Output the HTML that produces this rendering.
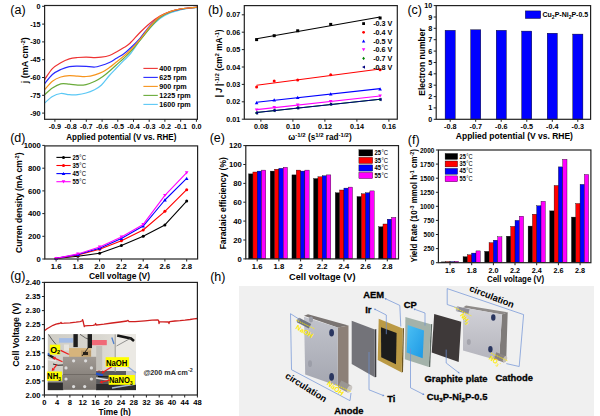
<!DOCTYPE html><html><head><meta charset="utf-8"><style>html,body{margin:0;padding:0;background:#fff;width:600px;height:416px;overflow:hidden}svg{display:block}text{font-family:"Liberation Sans",sans-serif}</style></head><body>
<svg width="600" height="416" viewBox="0 0 600 416">
<rect width="600" height="416" fill="#fff"/>
<text x="18.0" y="13.8" font-size="12.5" text-anchor="middle" font-weight="normal" fill="#000" >(a)</text>
<line x1="42.1" y1="6.3" x2="44.6" y2="6.3" stroke="#222" stroke-width="1"/>
<text x="40.6" y="8.8" font-size="7.2" text-anchor="end" font-weight="bold" fill="#000" >0</text>
<line x1="42.1" y1="24.1" x2="44.6" y2="24.1" stroke="#222" stroke-width="1"/>
<text x="40.6" y="26.6" font-size="7.2" text-anchor="end" font-weight="bold" fill="#000" >-15</text>
<line x1="42.1" y1="41.9" x2="44.6" y2="41.9" stroke="#222" stroke-width="1"/>
<text x="40.6" y="44.4" font-size="7.2" text-anchor="end" font-weight="bold" fill="#000" >-30</text>
<line x1="42.1" y1="59.7" x2="44.6" y2="59.7" stroke="#222" stroke-width="1"/>
<text x="40.6" y="62.2" font-size="7.2" text-anchor="end" font-weight="bold" fill="#000" >-45</text>
<line x1="42.1" y1="77.5" x2="44.6" y2="77.5" stroke="#222" stroke-width="1"/>
<text x="40.6" y="80.0" font-size="7.2" text-anchor="end" font-weight="bold" fill="#000" >-60</text>
<line x1="42.1" y1="95.3" x2="44.6" y2="95.3" stroke="#222" stroke-width="1"/>
<text x="40.6" y="97.8" font-size="7.2" text-anchor="end" font-weight="bold" fill="#000" >-75</text>
<line x1="42.1" y1="113.1" x2="44.6" y2="113.1" stroke="#222" stroke-width="1"/>
<text x="40.6" y="115.6" font-size="7.2" text-anchor="end" font-weight="bold" fill="#000" >-90</text>
<line x1="54.9" y1="119.3" x2="54.9" y2="121.8" stroke="#222" stroke-width="1"/>
<text x="54.9" y="129.3" font-size="7.2" text-anchor="middle" font-weight="bold" fill="#000" >-0.9</text>
<line x1="70.6" y1="119.3" x2="70.6" y2="121.8" stroke="#222" stroke-width="1"/>
<text x="70.6" y="129.3" font-size="7.2" text-anchor="middle" font-weight="bold" fill="#000" >-0.8</text>
<line x1="86.3" y1="119.3" x2="86.3" y2="121.8" stroke="#222" stroke-width="1"/>
<text x="86.3" y="129.3" font-size="7.2" text-anchor="middle" font-weight="bold" fill="#000" >-0.7</text>
<line x1="102.1" y1="119.3" x2="102.1" y2="121.8" stroke="#222" stroke-width="1"/>
<text x="102.1" y="129.3" font-size="7.2" text-anchor="middle" font-weight="bold" fill="#000" >-0.6</text>
<line x1="117.8" y1="119.3" x2="117.8" y2="121.8" stroke="#222" stroke-width="1"/>
<text x="117.8" y="129.3" font-size="7.2" text-anchor="middle" font-weight="bold" fill="#000" >-0.5</text>
<line x1="133.5" y1="119.3" x2="133.5" y2="121.8" stroke="#222" stroke-width="1"/>
<text x="133.5" y="129.3" font-size="7.2" text-anchor="middle" font-weight="bold" fill="#000" >-0.4</text>
<line x1="149.2" y1="119.3" x2="149.2" y2="121.8" stroke="#222" stroke-width="1"/>
<text x="149.2" y="129.3" font-size="7.2" text-anchor="middle" font-weight="bold" fill="#000" >-0.3</text>
<line x1="164.9" y1="119.3" x2="164.9" y2="121.8" stroke="#222" stroke-width="1"/>
<text x="164.9" y="129.3" font-size="7.2" text-anchor="middle" font-weight="bold" fill="#000" >-0.2</text>
<line x1="180.7" y1="119.3" x2="180.7" y2="121.8" stroke="#222" stroke-width="1"/>
<text x="180.7" y="129.3" font-size="7.2" text-anchor="middle" font-weight="bold" fill="#000" >-0.1</text>
<line x1="196.4" y1="119.3" x2="196.4" y2="121.8" stroke="#222" stroke-width="1"/>
<text x="196.4" y="129.3" font-size="7.2" text-anchor="middle" font-weight="bold" fill="#000" >0.0</text>
<path d="M44.6,103.1 C45.9,102.0 49.7,98.0 52.4,96.4 C55.1,94.8 58.0,93.8 60.8,93.5 C63.6,93.2 66.5,94.5 69.3,94.7 C72.1,94.9 74.9,95.0 77.7,94.7 C80.5,94.4 83.3,93.8 86.1,93.0 C88.9,92.2 91.9,91.0 94.5,89.7 C97.1,88.4 99.0,87.4 101.5,85.0 C104.0,82.6 107.0,78.2 109.4,75.5 C111.8,72.8 113.6,71.0 116.0,68.5 C118.4,66.0 121.4,62.9 123.9,60.4 C126.4,57.9 128.2,56.8 131.0,53.2 C133.8,49.6 137.8,43.2 141.0,39.0 C144.2,34.8 146.8,31.4 150.0,28.0 C153.2,24.6 156.7,21.0 160.0,18.5 C163.3,16.0 166.7,14.4 170.0,13.0 C173.3,11.6 176.7,10.8 180.0,10.0 C183.3,9.2 187.1,8.6 190.0,8.2 C192.9,7.8 196.1,7.6 197.3,7.5" fill="none" stroke="#5bc8f5" stroke-width="1.2"/>
<path d="M44.6,94.7 C45.9,93.6 49.7,89.8 52.4,88.0 C55.1,86.2 58.0,84.5 60.8,83.8 C63.6,83.1 66.5,83.9 69.3,84.1 C72.1,84.3 74.9,85.0 77.7,85.1 C80.5,85.2 83.2,85.2 86.1,84.6 C89.0,84.0 92.2,82.6 95.0,81.3 C97.8,80.0 100.5,78.3 102.9,76.6 C105.3,74.9 107.2,73.1 109.4,71.2 C111.6,69.3 113.6,67.4 116.0,65.2 C118.4,63.0 121.4,60.5 123.9,58.2 C126.4,55.9 128.3,54.2 131.0,51.2 C133.7,48.2 136.6,44.4 140.0,40.3 C143.4,36.2 148.0,30.2 151.3,26.4 C154.6,22.6 156.9,19.9 160.0,17.5 C163.1,15.2 166.7,13.6 170.0,12.3 C173.3,11.0 176.7,10.2 180.0,9.5 C183.3,8.8 187.1,8.3 190.0,8.0 C192.9,7.7 196.1,7.5 197.3,7.4" fill="none" stroke="#6aab3a" stroke-width="1.2"/>
<path d="M44.6,83.8 C45.9,82.2 49.7,76.9 52.4,74.5 C55.1,72.1 58.0,70.8 60.8,69.5 C63.6,68.2 66.5,67.2 69.3,66.6 C72.1,66.0 74.9,66.1 77.7,66.1 C80.5,66.1 83.2,66.2 86.1,66.4 C89.0,66.6 92.5,67.2 95.0,67.0 C97.5,66.8 98.8,66.2 101.2,65.5 C103.6,64.8 106.9,63.6 109.4,62.5 C111.9,61.4 113.6,60.1 116.0,58.6 C118.4,57.1 121.4,55.6 123.9,53.7 C126.4,51.9 128.3,50.1 131.0,47.5 C133.7,44.9 136.8,41.9 140.0,38.3 C143.2,34.6 146.7,29.2 150.0,25.6 C153.3,22.0 156.7,18.8 160.0,16.5 C163.3,14.2 166.7,12.9 170.0,11.7 C173.3,10.5 176.7,9.7 180.0,9.1 C183.3,8.5 187.1,8.2 190.0,7.9 C192.9,7.6 196.1,7.4 197.3,7.3" fill="none" stroke="#2a2aff" stroke-width="1.2"/>
<path d="M44.6,79.6 C45.9,77.8 49.7,71.4 52.4,68.6 C55.1,65.8 58.0,64.3 60.8,62.7 C63.6,61.1 66.5,59.8 69.3,58.9 C72.1,58.0 74.9,57.8 77.7,57.5 C80.5,57.2 83.2,57.2 86.1,57.2 C89.0,57.2 92.5,57.6 95.0,57.6 C97.5,57.6 98.8,57.6 101.2,57.2 C103.6,56.9 106.9,56.4 109.4,55.5 C111.9,54.6 114.0,53.3 116.4,52.0 C118.8,50.7 121.6,49.1 123.9,47.6 C126.2,46.1 127.3,45.7 130.0,43.2 C132.7,40.7 136.7,35.8 140.0,32.5 C143.3,29.2 146.7,25.9 150.0,23.2 C153.3,20.4 156.7,17.9 160.0,16.0 C163.3,14.1 166.7,12.7 170.0,11.5 C173.3,10.3 176.7,9.6 180.0,9.0 C183.3,8.4 187.1,8.1 190.0,7.8 C192.9,7.5 196.1,7.3 197.3,7.2" fill="none" stroke="#ee3333" stroke-width="1.2"/>
<path d="M44.6,89.7 C45.9,88.3 49.7,83.3 52.4,81.2 C55.1,79.1 58.0,77.9 60.8,77.0 C63.6,76.1 66.5,75.8 69.3,75.7 C72.1,75.6 74.9,76.1 77.7,76.2 C80.5,76.3 83.2,76.7 86.1,76.5 C89.0,76.3 92.2,75.6 95.0,74.8 C97.8,74.0 100.5,73.0 102.9,71.8 C105.3,70.6 107.2,69.2 109.4,67.6 C111.6,66.0 113.6,64.2 116.0,62.3 C118.4,60.4 121.4,58.1 123.9,56.0 C126.4,53.9 128.3,52.3 131.0,49.5 C133.7,46.7 136.8,43.1 140.0,39.3 C143.2,35.5 146.7,30.3 150.0,26.5 C153.3,22.7 156.7,19.1 160.0,16.6 C163.3,14.1 166.7,12.9 170.0,11.6 C173.3,10.3 176.7,9.6 180.0,9.0 C183.3,8.4 187.1,8.1 190.0,7.8 C192.9,7.5 196.1,7.3 197.3,7.2" fill="none" stroke="#f7941d" stroke-width="1.2"/>
<rect x="44.6" y="5.5" width="152.8" height="113.8" fill="none" stroke="#222" stroke-width="1.2"/>
<line x1="143.4" y1="68.4" x2="157.8" y2="68.4" stroke="#ee3333" stroke-width="1.1"/>
<text x="159.2" y="71.0" font-size="7.2" text-anchor="start" font-weight="bold" fill="#000" >400 rpm</text>
<line x1="143.4" y1="77.4" x2="157.8" y2="77.4" stroke="#2a2aff" stroke-width="1.1"/>
<text x="159.2" y="80.0" font-size="7.2" text-anchor="start" font-weight="bold" fill="#000" >625 rpm</text>
<line x1="143.4" y1="86.4" x2="157.8" y2="86.4" stroke="#f7941d" stroke-width="1.1"/>
<text x="159.2" y="89.0" font-size="7.2" text-anchor="start" font-weight="bold" fill="#000" >900 rpm</text>
<line x1="143.4" y1="95.4" x2="157.8" y2="95.4" stroke="#6aab3a" stroke-width="1.1"/>
<text x="159.2" y="98.0" font-size="7.2" text-anchor="start" font-weight="bold" fill="#000" >1225 rpm</text>
<line x1="143.4" y1="104.4" x2="157.8" y2="104.4" stroke="#5bc8f5" stroke-width="1.1"/>
<text x="159.2" y="107.0" font-size="7.2" text-anchor="start" font-weight="bold" fill="#000" >1600 rpm</text>
<text transform="translate(121.3,139.5) scale(0.89,1)" font-size="9" text-anchor="middle" font-weight="bold" fill="#000" >Applied potential (V vs. RHE)</text>
<text transform="translate(28.3,60.2) rotate(-90) scale(1.0,1)" font-size="9" text-anchor="middle" font-weight="bold" >j (mA cm<tspan dy="-3" font-size="6">-2</tspan><tspan dy="3">)</tspan></text>
<text x="215.6" y="13.8" font-size="12.5" text-anchor="middle" font-weight="normal" fill="#000" >(b)</text>
<line x1="241.8" y1="119.2" x2="244.3" y2="119.2" stroke="#222" stroke-width="1"/>
<text x="240.3" y="121.7" font-size="7.2" text-anchor="end" font-weight="bold" fill="#000" >0.01</text>
<line x1="241.8" y1="101.8" x2="244.3" y2="101.8" stroke="#222" stroke-width="1"/>
<text x="240.3" y="104.3" font-size="7.2" text-anchor="end" font-weight="bold" fill="#000" >0.02</text>
<line x1="241.8" y1="84.4" x2="244.3" y2="84.4" stroke="#222" stroke-width="1"/>
<text x="240.3" y="86.9" font-size="7.2" text-anchor="end" font-weight="bold" fill="#000" >0.03</text>
<line x1="241.8" y1="67.0" x2="244.3" y2="67.0" stroke="#222" stroke-width="1"/>
<text x="240.3" y="69.5" font-size="7.2" text-anchor="end" font-weight="bold" fill="#000" >0.04</text>
<line x1="241.8" y1="49.6" x2="244.3" y2="49.6" stroke="#222" stroke-width="1"/>
<text x="240.3" y="52.1" font-size="7.2" text-anchor="end" font-weight="bold" fill="#000" >0.05</text>
<line x1="241.8" y1="32.2" x2="244.3" y2="32.2" stroke="#222" stroke-width="1"/>
<text x="240.3" y="34.7" font-size="7.2" text-anchor="end" font-weight="bold" fill="#000" >0.06</text>
<line x1="241.8" y1="14.8" x2="244.3" y2="14.8" stroke="#222" stroke-width="1"/>
<text x="240.3" y="17.3" font-size="7.2" text-anchor="end" font-weight="bold" fill="#000" >0.07</text>
<line x1="260.9" y1="119.2" x2="260.9" y2="121.7" stroke="#222" stroke-width="1"/>
<text x="260.9" y="129.2" font-size="7.2" text-anchor="middle" font-weight="bold" fill="#000" >0.08</text>
<line x1="292.9" y1="119.2" x2="292.9" y2="121.7" stroke="#222" stroke-width="1"/>
<text x="292.9" y="129.2" font-size="7.2" text-anchor="middle" font-weight="bold" fill="#000" >0.10</text>
<line x1="324.9" y1="119.2" x2="324.9" y2="121.7" stroke="#222" stroke-width="1"/>
<text x="324.9" y="129.2" font-size="7.2" text-anchor="middle" font-weight="bold" fill="#000" >0.12</text>
<line x1="356.9" y1="119.2" x2="356.9" y2="121.7" stroke="#222" stroke-width="1"/>
<text x="356.9" y="129.2" font-size="7.2" text-anchor="middle" font-weight="bold" fill="#000" >0.14</text>
<line x1="388.9" y1="119.2" x2="388.9" y2="121.7" stroke="#222" stroke-width="1"/>
<text x="388.9" y="129.2" font-size="7.2" text-anchor="middle" font-weight="bold" fill="#000" >0.16</text>
<line x1="256.6" y1="38.7" x2="380.1" y2="17.0" stroke="#000000" stroke-width="1.1"/>
<rect x="255.1" y="38.1" width="3.0" height="3.0" fill="#000000"/>
<rect x="272.7" y="34.2" width="3.0" height="3.0" fill="#000000"/>
<rect x="296.2" y="29.3" width="3.0" height="3.0" fill="#000000"/>
<rect x="329.2" y="22.9" width="3.0" height="3.0" fill="#000000"/>
<rect x="378.6" y="16.5" width="3.0" height="3.0" fill="#000000"/>
<line x1="256.6" y1="85.2" x2="380.1" y2="69.0" stroke="#ff0000" stroke-width="1.1"/>
<circle cx="256.6" cy="86.9" r="1.5" fill="#ff0000"/>
<circle cx="274.2" cy="81.1" r="1.5" fill="#ff0000"/>
<circle cx="297.7" cy="80.1" r="1.5" fill="#ff0000"/>
<circle cx="330.7" cy="74.7" r="1.5" fill="#ff0000"/>
<circle cx="380.1" cy="69.7" r="1.5" fill="#ff0000"/>
<line x1="256.6" y1="102.2" x2="380.1" y2="88.6" stroke="#0000ff" stroke-width="1.1"/>
<polygon points="254.8,104.3 258.4,104.3 256.6,101.1" fill="#0000ff"/>
<polygon points="272.4,101.5 276.0,101.5 274.2,98.3" fill="#0000ff"/>
<polygon points="295.9,98.9 299.5,98.9 297.7,95.7" fill="#0000ff"/>
<polygon points="328.9,95.4 332.5,95.4 330.7,92.2" fill="#0000ff"/>
<polygon points="378.3,90.4 381.9,90.4 380.1,87.2" fill="#0000ff"/>
<line x1="256.6" y1="109.6" x2="380.1" y2="96.0" stroke="#ff00ff" stroke-width="1.1"/>
<polygon points="254.8,108.4 258.4,108.4 256.6,111.6" fill="#ff00ff"/>
<polygon points="272.4,105.9 276.0,105.9 274.2,109.1" fill="#ff00ff"/>
<polygon points="295.9,103.5 299.5,103.5 297.7,106.7" fill="#ff00ff"/>
<polygon points="328.9,100.0 332.5,100.0 330.7,103.2" fill="#ff00ff"/>
<polygon points="378.3,94.6 381.9,94.6 380.1,97.8" fill="#ff00ff"/>
<line x1="256.6" y1="112.5" x2="380.1" y2="99.2" stroke="#008000" stroke-width="1.1"/>
<polygon points="255.1,112.9 256.6,111.1 258.1,112.9 256.6,114.7" fill="#008000"/>
<polygon points="272.7,110.4 274.2,108.6 275.7,110.4 274.2,112.2" fill="#008000"/>
<polygon points="296.2,107.9 297.7,106.1 299.2,107.9 297.7,109.7" fill="#008000"/>
<polygon points="329.2,104.2 330.7,102.4 332.2,104.2 330.7,106.0" fill="#008000"/>
<polygon points="378.6,99.5 380.1,97.7 381.6,99.5 380.1,101.3" fill="#008000"/>
<line x1="256.6" y1="112.5" x2="380.1" y2="99.2" stroke="#000080" stroke-width="1.1"/>
<polygon points="258.1,111.1 258.1,114.7 254.9,112.9" fill="#000080"/>
<polygon points="275.7,108.6 275.7,112.2 272.5,110.4" fill="#000080"/>
<polygon points="299.2,106.1 299.2,109.7 296.0,107.9" fill="#000080"/>
<polygon points="332.2,102.4 332.2,106.0 329.0,104.2" fill="#000080"/>
<polygon points="381.6,97.7 381.6,101.3 378.4,99.5" fill="#000080"/>
<rect x="244.3" y="5.6" width="153.0" height="113.60000000000001" fill="none" stroke="#222" stroke-width="1.2"/>
<rect x="362.2" y="22.2" width="2.8" height="2.8" fill="#000000"/>
<text x="373.2" y="26.2" font-size="7.2" text-anchor="start" font-weight="bold" fill="#000" >-0.3 V</text>
<circle cx="363.6" cy="32.3" r="1.4" fill="#ff0000"/>
<text x="373.2" y="34.9" font-size="7.2" text-anchor="start" font-weight="bold" fill="#000" >-0.4 V</text>
<polygon points="361.9,42.4 365.3,42.4 363.6,39.4" fill="#0000ff"/>
<text x="373.2" y="43.6" font-size="7.2" text-anchor="start" font-weight="bold" fill="#000" >-0.5 V</text>
<polygon points="361.9,48.3 365.3,48.3 363.6,51.3" fill="#ff00ff"/>
<text x="373.2" y="52.3" font-size="7.2" text-anchor="start" font-weight="bold" fill="#000" >-0.6 V</text>
<polygon points="362.2,58.4 363.6,56.7 365.0,58.4 363.6,60.1" fill="#008000"/>
<text x="373.2" y="61.0" font-size="7.2" text-anchor="start" font-weight="bold" fill="#000" >-0.7 V</text>
<polygon points="365.0,65.4 365.0,68.8 362.0,67.1" fill="#000080"/>
<text x="373.2" y="69.7" font-size="7.2" text-anchor="start" font-weight="bold" fill="#000" >-0.8 V</text>
<text x="320.0" y="140.2" font-size="8.2" text-anchor="middle" font-weight="bold" fill="#000" >&#969;<tspan dy="-3" font-size="6">-1/2</tspan><tspan dy="3"> (s</tspan><tspan dy="-3" font-size="6">1/2</tspan><tspan dy="3"> rad</tspan><tspan dy="-3" font-size="6">-1/2</tspan><tspan dy="3">)</tspan></text>
<text transform="translate(222.0,63.4) rotate(-90) scale(1.0,1)" font-size="8.2" text-anchor="middle" font-weight="bold" >| <tspan font-style="italic">J</tspan> |<tspan dy="-3" font-size="6">-1/2</tspan><tspan dy="3"> (cm</tspan><tspan dy="-3" font-size="6">2</tspan><tspan dy="3"> mA</tspan><tspan dy="-3" font-size="6">-1</tspan><tspan dy="3">)</tspan></text>
<text x="414.7" y="13.8" font-size="12.5" text-anchor="middle" font-weight="normal" fill="#000" >(c)</text>
<line x1="433.7" y1="119.3" x2="436.2" y2="119.3" stroke="#222" stroke-width="1"/>
<text x="432.2" y="121.8" font-size="7.2" text-anchor="end" font-weight="bold" fill="#000" >0</text>
<line x1="433.7" y1="107.9" x2="436.2" y2="107.9" stroke="#222" stroke-width="1"/>
<text x="432.2" y="110.4" font-size="7.2" text-anchor="end" font-weight="bold" fill="#000" >1</text>
<line x1="433.7" y1="96.6" x2="436.2" y2="96.6" stroke="#222" stroke-width="1"/>
<text x="432.2" y="99.1" font-size="7.2" text-anchor="end" font-weight="bold" fill="#000" >2</text>
<line x1="433.7" y1="85.2" x2="436.2" y2="85.2" stroke="#222" stroke-width="1"/>
<text x="432.2" y="87.7" font-size="7.2" text-anchor="end" font-weight="bold" fill="#000" >3</text>
<line x1="433.7" y1="73.8" x2="436.2" y2="73.8" stroke="#222" stroke-width="1"/>
<text x="432.2" y="76.3" font-size="7.2" text-anchor="end" font-weight="bold" fill="#000" >4</text>
<line x1="433.7" y1="62.5" x2="436.2" y2="62.5" stroke="#222" stroke-width="1"/>
<text x="432.2" y="65.0" font-size="7.2" text-anchor="end" font-weight="bold" fill="#000" >5</text>
<line x1="433.7" y1="51.1" x2="436.2" y2="51.1" stroke="#222" stroke-width="1"/>
<text x="432.2" y="53.6" font-size="7.2" text-anchor="end" font-weight="bold" fill="#000" >6</text>
<line x1="433.7" y1="39.7" x2="436.2" y2="39.7" stroke="#222" stroke-width="1"/>
<text x="432.2" y="42.2" font-size="7.2" text-anchor="end" font-weight="bold" fill="#000" >7</text>
<line x1="433.7" y1="28.3" x2="436.2" y2="28.3" stroke="#222" stroke-width="1"/>
<text x="432.2" y="30.9" font-size="7.2" text-anchor="end" font-weight="bold" fill="#000" >8</text>
<line x1="433.7" y1="17.0" x2="436.2" y2="17.0" stroke="#222" stroke-width="1"/>
<text x="432.2" y="19.5" font-size="7.2" text-anchor="end" font-weight="bold" fill="#000" >9</text>
<line x1="433.7" y1="5.6" x2="436.2" y2="5.6" stroke="#222" stroke-width="1"/>
<text x="432.2" y="8.1" font-size="7.2" text-anchor="end" font-weight="bold" fill="#000" >10</text>
<rect x="445.1" y="30.3" width="10.1" height="89.0" fill="#0000ff" stroke="#000" stroke-width="0.4"/>
<rect x="470.7" y="29.8" width="10.1" height="89.5" fill="#0000ff" stroke="#000" stroke-width="0.4"/>
<rect x="496.2" y="30.3" width="10.1" height="89.0" fill="#0000ff" stroke="#000" stroke-width="0.4"/>
<rect x="521.7" y="31.1" width="10.1" height="88.2" fill="#0000ff" stroke="#000" stroke-width="0.4"/>
<rect x="547.2" y="33.2" width="10.1" height="86.1" fill="#0000ff" stroke="#000" stroke-width="0.4"/>
<rect x="572.8" y="34.1" width="10.1" height="85.2" fill="#0000ff" stroke="#000" stroke-width="0.4"/>
<line x1="450.2" y1="119.3" x2="450.2" y2="121.8" stroke="#222" stroke-width="1"/>
<text x="450.2" y="129.3" font-size="7.2" text-anchor="middle" font-weight="bold" fill="#000" >-0.8</text>
<line x1="475.7" y1="119.3" x2="475.7" y2="121.8" stroke="#222" stroke-width="1"/>
<text x="475.7" y="129.3" font-size="7.2" text-anchor="middle" font-weight="bold" fill="#000" >-0.7</text>
<line x1="501.2" y1="119.3" x2="501.2" y2="121.8" stroke="#222" stroke-width="1"/>
<text x="501.2" y="129.3" font-size="7.2" text-anchor="middle" font-weight="bold" fill="#000" >-0.6</text>
<line x1="526.8" y1="119.3" x2="526.8" y2="121.8" stroke="#222" stroke-width="1"/>
<text x="526.8" y="129.3" font-size="7.2" text-anchor="middle" font-weight="bold" fill="#000" >-0.5</text>
<line x1="552.3" y1="119.3" x2="552.3" y2="121.8" stroke="#222" stroke-width="1"/>
<text x="552.3" y="129.3" font-size="7.2" text-anchor="middle" font-weight="bold" fill="#000" >-0.4</text>
<line x1="577.8" y1="119.3" x2="577.8" y2="121.8" stroke="#222" stroke-width="1"/>
<text x="577.8" y="129.3" font-size="7.2" text-anchor="middle" font-weight="bold" fill="#000" >-0.3</text>
<rect x="436.2" y="5.6" width="154.40000000000003" height="113.7" fill="none" stroke="#222" stroke-width="1.2"/>
<rect x="525.3" y="10.9" width="15.4" height="7.6" fill="#0000ff" stroke="#000" stroke-width="0.4"/>
<text x="542.5" y="17.2" font-size="7" text-anchor="start" font-weight="bold" fill="#000" >Cu<tspan dy="1.5" font-size="5">2</tspan><tspan dy="-1.5">P-Ni</tspan><tspan dy="1.5" font-size="5">2</tspan><tspan dy="-1.5">P-0.5</tspan></text>
<text transform="translate(514.4,138.6) scale(0.945,1)" font-size="9" text-anchor="middle" font-weight="bold" fill="#000" >Applied potential (V vs. RHE)</text>
<text transform="translate(425.3,62.0) rotate(-90) scale(1.0,1)" font-size="8.5" text-anchor="middle" font-weight="bold" >Electron number</text>
<text x="17.8" y="142.3" font-size="12.5" text-anchor="middle" font-weight="normal" fill="#000" >(d)</text>
<line x1="42.3" y1="259.0" x2="44.8" y2="259.0" stroke="#222" stroke-width="1"/>
<text x="40.8" y="261.7" font-size="7.7" text-anchor="end" font-weight="bold" fill="#000" >0</text>
<line x1="42.3" y1="236.3" x2="44.8" y2="236.3" stroke="#222" stroke-width="1"/>
<text x="40.8" y="239.0" font-size="7.7" text-anchor="end" font-weight="bold" fill="#000" >200</text>
<line x1="42.3" y1="213.6" x2="44.8" y2="213.6" stroke="#222" stroke-width="1"/>
<text x="40.8" y="216.3" font-size="7.7" text-anchor="end" font-weight="bold" fill="#000" >400</text>
<line x1="42.3" y1="190.9" x2="44.8" y2="190.9" stroke="#222" stroke-width="1"/>
<text x="40.8" y="193.6" font-size="7.7" text-anchor="end" font-weight="bold" fill="#000" >600</text>
<line x1="42.3" y1="168.2" x2="44.8" y2="168.2" stroke="#222" stroke-width="1"/>
<text x="40.8" y="170.9" font-size="7.7" text-anchor="end" font-weight="bold" fill="#000" >800</text>
<line x1="42.3" y1="145.4" x2="44.8" y2="145.4" stroke="#222" stroke-width="1"/>
<text x="40.8" y="148.1" font-size="7.7" text-anchor="end" font-weight="bold" fill="#000" >1000</text>
<line x1="56.1" y1="259.0" x2="56.1" y2="261.5" stroke="#222" stroke-width="1"/>
<text x="56.1" y="269.2" font-size="7.7" text-anchor="middle" font-weight="bold" fill="#000" >1.6</text>
<line x1="77.9" y1="259.0" x2="77.9" y2="261.5" stroke="#222" stroke-width="1"/>
<text x="77.9" y="269.2" font-size="7.7" text-anchor="middle" font-weight="bold" fill="#000" >1.8</text>
<line x1="99.6" y1="259.0" x2="99.6" y2="261.5" stroke="#222" stroke-width="1"/>
<text x="99.6" y="269.2" font-size="7.7" text-anchor="middle" font-weight="bold" fill="#000" >2.0</text>
<line x1="121.4" y1="259.0" x2="121.4" y2="261.5" stroke="#222" stroke-width="1"/>
<text x="121.4" y="269.2" font-size="7.7" text-anchor="middle" font-weight="bold" fill="#000" >2.2</text>
<line x1="143.2" y1="259.0" x2="143.2" y2="261.5" stroke="#222" stroke-width="1"/>
<text x="143.2" y="269.2" font-size="7.7" text-anchor="middle" font-weight="bold" fill="#000" >2.4</text>
<line x1="164.9" y1="259.0" x2="164.9" y2="261.5" stroke="#222" stroke-width="1"/>
<text x="164.9" y="269.2" font-size="7.7" text-anchor="middle" font-weight="bold" fill="#000" >2.6</text>
<line x1="186.7" y1="259.0" x2="186.7" y2="261.5" stroke="#222" stroke-width="1"/>
<text x="186.7" y="269.2" font-size="7.7" text-anchor="middle" font-weight="bold" fill="#000" >2.8</text>
<polyline points="56.1,258.4 77.9,256.2 99.6,253.3 121.4,245.4 143.2,236.3 164.9,224.9 186.7,201.1" fill="none" stroke="#000000" stroke-width="1.1" stroke-linejoin="round" />
<circle cx="56.1" cy="258.4" r="1.5" fill="#000000"/>
<circle cx="77.9" cy="256.2" r="1.5" fill="#000000"/>
<circle cx="99.6" cy="253.3" r="1.5" fill="#000000"/>
<circle cx="121.4" cy="245.4" r="1.5" fill="#000000"/>
<circle cx="143.2" cy="236.3" r="1.5" fill="#000000"/>
<circle cx="164.9" cy="224.9" r="1.5" fill="#000000"/>
<circle cx="186.7" cy="201.1" r="1.5" fill="#000000"/>
<polyline points="56.1,258.4 77.9,255.0 99.6,249.3 121.4,240.8 143.2,230.0 164.9,211.3 186.7,189.7" fill="none" stroke="#ff0000" stroke-width="1.1" stroke-linejoin="round" />
<circle cx="56.1" cy="258.4" r="1.5" fill="#ff0000"/>
<circle cx="77.9" cy="255.0" r="1.5" fill="#ff0000"/>
<circle cx="99.6" cy="249.3" r="1.5" fill="#ff0000"/>
<circle cx="121.4" cy="240.8" r="1.5" fill="#ff0000"/>
<circle cx="143.2" cy="230.0" r="1.5" fill="#ff0000"/>
<circle cx="164.9" cy="211.3" r="1.5" fill="#ff0000"/>
<circle cx="186.7" cy="189.7" r="1.5" fill="#ff0000"/>
<polyline points="56.1,258.4 77.9,254.5 99.6,248.2 121.4,238.6 143.2,226.1 164.9,200.0 186.7,178.4" fill="none" stroke="#0000ff" stroke-width="1.1" stroke-linejoin="round" />
<polygon points="54.3,259.9 57.9,259.9 56.1,256.7" fill="#0000ff"/>
<polygon points="76.1,256.0 79.7,256.0 77.9,252.8" fill="#0000ff"/>
<polygon points="97.8,249.7 101.4,249.7 99.6,246.5" fill="#0000ff"/>
<polygon points="119.6,240.1 123.2,240.1 121.4,236.9" fill="#0000ff"/>
<polygon points="141.4,227.6 145.0,227.6 143.2,224.4" fill="#0000ff"/>
<polygon points="163.1,201.5 166.8,201.5 164.9,198.3" fill="#0000ff"/>
<polygon points="184.9,179.9 188.5,179.9 186.7,176.7" fill="#0000ff"/>
<polyline points="56.1,258.4 77.9,253.9 99.6,247.1 121.4,236.9 143.2,224.4 164.9,195.4 186.7,172.7" fill="none" stroke="#ff00ff" stroke-width="1.1" stroke-linejoin="round" />
<polygon points="54.3,256.9 57.9,256.9 56.1,260.1" fill="#ff00ff"/>
<polygon points="76.1,252.4 79.7,252.4 77.9,255.6" fill="#ff00ff"/>
<polygon points="97.8,245.6 101.4,245.6 99.6,248.8" fill="#ff00ff"/>
<polygon points="119.6,235.4 123.2,235.4 121.4,238.6" fill="#ff00ff"/>
<polygon points="141.4,222.9 145.0,222.9 143.2,226.1" fill="#ff00ff"/>
<polygon points="163.1,193.9 166.8,193.9 164.9,197.1" fill="#ff00ff"/>
<polygon points="184.9,171.2 188.5,171.2 186.7,174.4" fill="#ff00ff"/>
<rect x="44.8" y="145.9" width="152.8" height="113.1" fill="none" stroke="#222" stroke-width="1.2"/>
<line x1="56.4" y1="157.4" x2="70.7" y2="157.4" stroke="#000000" stroke-width="1.1"/>
<circle cx="63.5" cy="157.4" r="1.5" fill="#000000"/>
<text transform="translate(72.4,159.7) scale(0.9,1)" font-size="6.6" text-anchor="start" font-weight="bold" fill="#000" >25<tspan font-weight="normal" dx="0.4">&#176;C</tspan></text>
<line x1="56.4" y1="165.5" x2="70.7" y2="165.5" stroke="#ff0000" stroke-width="1.1"/>
<circle cx="63.5" cy="165.5" r="1.5" fill="#ff0000"/>
<text transform="translate(72.4,167.8) scale(0.9,1)" font-size="6.6" text-anchor="start" font-weight="bold" fill="#000" >35<tspan font-weight="normal" dx="0.4">&#176;C</tspan></text>
<line x1="56.4" y1="173.6" x2="70.7" y2="173.6" stroke="#0000ff" stroke-width="1.1"/>
<polygon points="61.7,175.1 65.3,175.1 63.5,171.9" fill="#0000ff"/>
<text transform="translate(72.4,175.9) scale(0.9,1)" font-size="6.6" text-anchor="start" font-weight="bold" fill="#000" >45<tspan font-weight="normal" dx="0.4">&#176;C</tspan></text>
<line x1="56.4" y1="181.7" x2="70.7" y2="181.7" stroke="#ff00ff" stroke-width="1.1"/>
<polygon points="61.7,180.2 65.3,180.2 63.5,183.4" fill="#ff00ff"/>
<text transform="translate(72.4,184.0) scale(0.9,1)" font-size="6.6" text-anchor="start" font-weight="bold" fill="#000" >55<tspan font-weight="normal" dx="0.4">&#176;C</tspan></text>
<text transform="translate(119.5,279.2) scale(0.94,1)" font-size="9" text-anchor="middle" font-weight="bold" fill="#000" >Cell voltage (V)</text>
<text transform="translate(21.8,202.7) rotate(-90) scale(0.94,1)" font-size="9" text-anchor="middle" font-weight="bold" >Curren density (mA cm<tspan dy="-3" font-size="6">-2</tspan><tspan dy="3">)</tspan></text>
<text x="217.3" y="141.8" font-size="12.5" text-anchor="middle" font-weight="normal" fill="#000" >(e)</text>
<line x1="243.3" y1="258.9" x2="245.8" y2="258.9" stroke="#222" stroke-width="1"/>
<text x="241.8" y="261.6" font-size="7.7" text-anchor="end" font-weight="bold" fill="#000" >0</text>
<line x1="243.3" y1="240.0" x2="245.8" y2="240.0" stroke="#222" stroke-width="1"/>
<text x="241.8" y="242.7" font-size="7.7" text-anchor="end" font-weight="bold" fill="#000" >20</text>
<line x1="243.3" y1="221.1" x2="245.8" y2="221.1" stroke="#222" stroke-width="1"/>
<text x="241.8" y="223.8" font-size="7.7" text-anchor="end" font-weight="bold" fill="#000" >40</text>
<line x1="243.3" y1="202.2" x2="245.8" y2="202.2" stroke="#222" stroke-width="1"/>
<text x="241.8" y="204.9" font-size="7.7" text-anchor="end" font-weight="bold" fill="#000" >60</text>
<line x1="243.3" y1="183.4" x2="245.8" y2="183.4" stroke="#222" stroke-width="1"/>
<text x="241.8" y="186.1" font-size="7.7" text-anchor="end" font-weight="bold" fill="#000" >80</text>
<line x1="243.3" y1="164.5" x2="245.8" y2="164.5" stroke="#222" stroke-width="1"/>
<text x="241.8" y="167.2" font-size="7.7" text-anchor="end" font-weight="bold" fill="#000" >100</text>
<line x1="243.3" y1="145.6" x2="245.8" y2="145.6" stroke="#222" stroke-width="1"/>
<text x="241.8" y="148.3" font-size="7.7" text-anchor="end" font-weight="bold" fill="#000" >120</text>
<line x1="257.2" y1="258.9" x2="257.2" y2="261.4" stroke="#222" stroke-width="1"/>
<text x="257.2" y="269.1" font-size="7.7" text-anchor="middle" font-weight="bold" fill="#000" >1.6</text>
<line x1="278.9" y1="258.9" x2="278.9" y2="261.4" stroke="#222" stroke-width="1"/>
<text x="278.9" y="269.1" font-size="7.7" text-anchor="middle" font-weight="bold" fill="#000" >1.8</text>
<line x1="300.6" y1="258.9" x2="300.6" y2="261.4" stroke="#222" stroke-width="1"/>
<text x="300.6" y="269.1" font-size="7.7" text-anchor="middle" font-weight="bold" fill="#000" >2</text>
<line x1="322.2" y1="258.9" x2="322.2" y2="261.4" stroke="#222" stroke-width="1"/>
<text x="322.2" y="269.1" font-size="7.7" text-anchor="middle" font-weight="bold" fill="#000" >2.2</text>
<line x1="343.9" y1="258.9" x2="343.9" y2="261.4" stroke="#222" stroke-width="1"/>
<text x="343.9" y="269.1" font-size="7.7" text-anchor="middle" font-weight="bold" fill="#000" >2.4</text>
<line x1="365.6" y1="258.9" x2="365.6" y2="261.4" stroke="#222" stroke-width="1"/>
<text x="365.6" y="269.1" font-size="7.7" text-anchor="middle" font-weight="bold" fill="#000" >2.6</text>
<line x1="387.3" y1="258.9" x2="387.3" y2="261.4" stroke="#222" stroke-width="1"/>
<text x="387.3" y="269.1" font-size="7.7" text-anchor="middle" font-weight="bold" fill="#000" >2.8</text>
<rect x="248.60" y="173.9" width="4.30" height="85.0" fill="#000000" stroke="#000" stroke-width="0.35"/>
<rect x="252.90" y="172.0" width="4.30" height="86.9" fill="#ff0000" stroke="#000" stroke-width="0.35"/>
<rect x="257.20" y="171.1" width="4.30" height="87.8" fill="#0000ff" stroke="#000" stroke-width="0.35"/>
<rect x="261.50" y="170.1" width="4.30" height="88.8" fill="#ff00ff" stroke="#000" stroke-width="0.35"/>
<rect x="270.28" y="171.1" width="4.30" height="87.8" fill="#000000" stroke="#000" stroke-width="0.35"/>
<rect x="274.58" y="169.2" width="4.30" height="89.7" fill="#ff0000" stroke="#000" stroke-width="0.35"/>
<rect x="278.88" y="168.3" width="4.30" height="90.6" fill="#0000ff" stroke="#000" stroke-width="0.35"/>
<rect x="283.18" y="167.3" width="4.30" height="91.6" fill="#ff00ff" stroke="#000" stroke-width="0.35"/>
<rect x="291.96" y="174.9" width="4.30" height="84.0" fill="#000000" stroke="#000" stroke-width="0.35"/>
<rect x="296.26" y="170.1" width="4.30" height="88.8" fill="#ff0000" stroke="#000" stroke-width="0.35"/>
<rect x="300.56" y="171.1" width="4.30" height="87.8" fill="#0000ff" stroke="#000" stroke-width="0.35"/>
<rect x="304.86" y="170.1" width="4.30" height="88.8" fill="#ff00ff" stroke="#000" stroke-width="0.35"/>
<rect x="313.64" y="178.6" width="4.30" height="80.3" fill="#000000" stroke="#000" stroke-width="0.35"/>
<rect x="317.94" y="176.8" width="4.30" height="82.1" fill="#ff0000" stroke="#000" stroke-width="0.35"/>
<rect x="322.24" y="175.8" width="4.30" height="83.1" fill="#0000ff" stroke="#000" stroke-width="0.35"/>
<rect x="326.54" y="174.9" width="4.30" height="84.0" fill="#ff00ff" stroke="#000" stroke-width="0.35"/>
<rect x="335.32" y="192.8" width="4.30" height="66.1" fill="#000000" stroke="#000" stroke-width="0.35"/>
<rect x="339.62" y="190.0" width="4.30" height="68.9" fill="#ff0000" stroke="#000" stroke-width="0.35"/>
<rect x="343.92" y="188.1" width="4.30" height="70.8" fill="#0000ff" stroke="#000" stroke-width="0.35"/>
<rect x="348.22" y="187.1" width="4.30" height="71.8" fill="#ff00ff" stroke="#000" stroke-width="0.35"/>
<rect x="357.00" y="196.6" width="4.30" height="62.3" fill="#000000" stroke="#000" stroke-width="0.35"/>
<rect x="361.30" y="193.8" width="4.30" height="65.1" fill="#ff0000" stroke="#000" stroke-width="0.35"/>
<rect x="365.60" y="192.8" width="4.30" height="66.1" fill="#0000ff" stroke="#000" stroke-width="0.35"/>
<rect x="369.90" y="190.9" width="4.30" height="68.0" fill="#ff00ff" stroke="#000" stroke-width="0.35"/>
<rect x="378.68" y="226.8" width="4.30" height="32.1" fill="#000000" stroke="#000" stroke-width="0.35"/>
<rect x="382.98" y="224.0" width="4.30" height="34.9" fill="#ff0000" stroke="#000" stroke-width="0.35"/>
<rect x="387.28" y="219.2" width="4.30" height="39.7" fill="#0000ff" stroke="#000" stroke-width="0.35"/>
<rect x="391.58" y="217.4" width="4.30" height="41.5" fill="#ff00ff" stroke="#000" stroke-width="0.35"/>
<rect x="245.8" y="145.6" width="152.7" height="113.29999999999998" fill="none" stroke="#222" stroke-width="1.2"/>
<rect x="358.9" y="149.8" width="13.8" height="6.2" fill="#000000" stroke="#000" stroke-width="0.35"/>
<text transform="translate(374.5,155.1) scale(0.9,1)" font-size="6.6" text-anchor="start" font-weight="bold" fill="#000" >25<tspan font-weight="normal" dx="0.4">&#176;C</tspan></text>
<rect x="358.9" y="157.3" width="13.8" height="6.2" fill="#ff0000" stroke="#000" stroke-width="0.35"/>
<text transform="translate(374.5,162.6) scale(0.9,1)" font-size="6.6" text-anchor="start" font-weight="bold" fill="#000" >35<tspan font-weight="normal" dx="0.4">&#176;C</tspan></text>
<rect x="358.9" y="164.9" width="13.8" height="6.2" fill="#0000ff" stroke="#000" stroke-width="0.35"/>
<text transform="translate(374.5,170.2) scale(0.9,1)" font-size="6.6" text-anchor="start" font-weight="bold" fill="#000" >45<tspan font-weight="normal" dx="0.4">&#176;C</tspan></text>
<rect x="358.9" y="172.4" width="13.8" height="6.2" fill="#ff00ff" stroke="#000" stroke-width="0.35"/>
<text transform="translate(374.5,177.7) scale(0.9,1)" font-size="6.6" text-anchor="start" font-weight="bold" fill="#000" >55<tspan font-weight="normal" dx="0.4">&#176;C</tspan></text>
<text x="322.3" y="279.6" font-size="9.2" text-anchor="middle" font-weight="bold" fill="#000" >Cell voltage (V)</text>
<text transform="translate(226.1,203.3) rotate(-90) scale(0.946,1)" font-size="9" text-anchor="middle" font-weight="bold" >Faradaic efficiency (%)</text>
<text x="413.7" y="143.8" font-size="12.5" text-anchor="middle" font-weight="normal" fill="#000" >(f)</text>
<line x1="435.9" y1="262.7" x2="438.4" y2="262.7" stroke="#222" stroke-width="1"/>
<text transform="translate(434.4,265.2) scale(0.9,1)" font-size="7.2" text-anchor="end" font-weight="bold" fill="#000" >0</text>
<line x1="435.9" y1="248.6" x2="438.4" y2="248.6" stroke="#222" stroke-width="1"/>
<text transform="translate(434.4,251.1) scale(0.9,1)" font-size="7.2" text-anchor="end" font-weight="bold" fill="#000" >250</text>
<line x1="435.9" y1="234.5" x2="438.4" y2="234.5" stroke="#222" stroke-width="1"/>
<text transform="translate(434.4,237.0) scale(0.9,1)" font-size="7.2" text-anchor="end" font-weight="bold" fill="#000" >500</text>
<line x1="435.9" y1="220.4" x2="438.4" y2="220.4" stroke="#222" stroke-width="1"/>
<text transform="translate(434.4,223.0) scale(0.9,1)" font-size="7.2" text-anchor="end" font-weight="bold" fill="#000" >750</text>
<line x1="435.9" y1="206.3" x2="438.4" y2="206.3" stroke="#222" stroke-width="1"/>
<text transform="translate(434.4,208.9) scale(0.9,1)" font-size="7.2" text-anchor="end" font-weight="bold" fill="#000" >1000</text>
<line x1="435.9" y1="192.3" x2="438.4" y2="192.3" stroke="#222" stroke-width="1"/>
<text transform="translate(434.4,194.8) scale(0.9,1)" font-size="7.2" text-anchor="end" font-weight="bold" fill="#000" >1250</text>
<line x1="435.9" y1="178.2" x2="438.4" y2="178.2" stroke="#222" stroke-width="1"/>
<text transform="translate(434.4,180.7) scale(0.9,1)" font-size="7.2" text-anchor="end" font-weight="bold" fill="#000" >1500</text>
<line x1="435.9" y1="164.1" x2="438.4" y2="164.1" stroke="#222" stroke-width="1"/>
<text transform="translate(434.4,166.6) scale(0.9,1)" font-size="7.2" text-anchor="end" font-weight="bold" fill="#000" >1750</text>
<line x1="435.9" y1="150.0" x2="438.4" y2="150.0" stroke="#222" stroke-width="1"/>
<text transform="translate(434.4,152.5) scale(0.9,1)" font-size="7.2" text-anchor="end" font-weight="bold" fill="#000" >2000</text>
<line x1="450.0" y1="262.7" x2="450.0" y2="265.2" stroke="#222" stroke-width="1"/>
<text x="450.0" y="272.7" font-size="7.2" text-anchor="middle" font-weight="bold" fill="#000" >1.6</text>
<line x1="471.7" y1="262.7" x2="471.7" y2="265.2" stroke="#222" stroke-width="1"/>
<text x="471.7" y="272.7" font-size="7.2" text-anchor="middle" font-weight="bold" fill="#000" >1.8</text>
<line x1="493.4" y1="262.7" x2="493.4" y2="265.2" stroke="#222" stroke-width="1"/>
<text x="493.4" y="272.7" font-size="7.2" text-anchor="middle" font-weight="bold" fill="#000" >2.0</text>
<line x1="515.0" y1="262.7" x2="515.0" y2="265.2" stroke="#222" stroke-width="1"/>
<text x="515.0" y="272.7" font-size="7.2" text-anchor="middle" font-weight="bold" fill="#000" >2.2</text>
<line x1="536.7" y1="262.7" x2="536.7" y2="265.2" stroke="#222" stroke-width="1"/>
<text x="536.7" y="272.7" font-size="7.2" text-anchor="middle" font-weight="bold" fill="#000" >2.4</text>
<line x1="558.4" y1="262.7" x2="558.4" y2="265.2" stroke="#222" stroke-width="1"/>
<text x="558.4" y="272.7" font-size="7.2" text-anchor="middle" font-weight="bold" fill="#000" >2.6</text>
<line x1="580.1" y1="262.7" x2="580.1" y2="265.2" stroke="#222" stroke-width="1"/>
<text x="580.1" y="272.7" font-size="7.2" text-anchor="middle" font-weight="bold" fill="#000" >2.8</text>
<rect x="441.40" y="261.9" width="4.30" height="0.8" fill="#000000" stroke="#000" stroke-width="0.35"/>
<rect x="445.70" y="261.6" width="4.30" height="1.1" fill="#ff0000" stroke="#000" stroke-width="0.35"/>
<rect x="450.00" y="261.6" width="4.30" height="1.1" fill="#0000ff" stroke="#000" stroke-width="0.35"/>
<rect x="454.30" y="261.3" width="4.30" height="1.4" fill="#ff00ff" stroke="#000" stroke-width="0.35"/>
<rect x="463.08" y="256.8" width="4.30" height="5.9" fill="#000000" stroke="#000" stroke-width="0.35"/>
<rect x="467.38" y="254.8" width="4.30" height="7.9" fill="#ff0000" stroke="#000" stroke-width="0.35"/>
<rect x="471.68" y="253.1" width="4.30" height="9.6" fill="#0000ff" stroke="#000" stroke-width="0.35"/>
<rect x="475.98" y="250.9" width="4.30" height="11.8" fill="#ff00ff" stroke="#000" stroke-width="0.35"/>
<rect x="484.76" y="251.4" width="4.30" height="11.3" fill="#000000" stroke="#000" stroke-width="0.35"/>
<rect x="489.06" y="242.7" width="4.30" height="20.0" fill="#ff0000" stroke="#000" stroke-width="0.35"/>
<rect x="493.36" y="240.2" width="4.30" height="22.5" fill="#0000ff" stroke="#000" stroke-width="0.35"/>
<rect x="497.66" y="236.8" width="4.30" height="25.9" fill="#ff00ff" stroke="#000" stroke-width="0.35"/>
<rect x="506.44" y="236.2" width="4.30" height="26.5" fill="#000000" stroke="#000" stroke-width="0.35"/>
<rect x="510.74" y="226.4" width="4.30" height="36.3" fill="#ff0000" stroke="#000" stroke-width="0.35"/>
<rect x="515.04" y="220.4" width="4.30" height="42.3" fill="#0000ff" stroke="#000" stroke-width="0.35"/>
<rect x="519.34" y="216.2" width="4.30" height="46.5" fill="#ff00ff" stroke="#000" stroke-width="0.35"/>
<rect x="528.12" y="226.1" width="4.30" height="36.6" fill="#000000" stroke="#000" stroke-width="0.35"/>
<rect x="532.42" y="214.2" width="4.30" height="48.5" fill="#ff0000" stroke="#000" stroke-width="0.35"/>
<rect x="536.72" y="205.8" width="4.30" height="56.9" fill="#0000ff" stroke="#000" stroke-width="0.35"/>
<rect x="541.02" y="201.3" width="4.30" height="61.4" fill="#ff00ff" stroke="#000" stroke-width="0.35"/>
<rect x="549.80" y="210.9" width="4.30" height="51.8" fill="#000000" stroke="#000" stroke-width="0.35"/>
<rect x="554.10" y="185.5" width="4.30" height="77.2" fill="#ff0000" stroke="#000" stroke-width="0.35"/>
<rect x="558.40" y="166.9" width="4.30" height="95.8" fill="#0000ff" stroke="#000" stroke-width="0.35"/>
<rect x="562.70" y="159.3" width="4.30" height="103.4" fill="#ff00ff" stroke="#000" stroke-width="0.35"/>
<rect x="571.48" y="217.1" width="4.30" height="45.6" fill="#000000" stroke="#000" stroke-width="0.35"/>
<rect x="575.78" y="203.5" width="4.30" height="59.2" fill="#ff0000" stroke="#000" stroke-width="0.35"/>
<rect x="580.08" y="184.4" width="4.30" height="78.3" fill="#0000ff" stroke="#000" stroke-width="0.35"/>
<rect x="584.38" y="174.5" width="4.30" height="88.2" fill="#ff00ff" stroke="#000" stroke-width="0.35"/>
<rect x="438.4" y="150.0" width="152.5" height="112.69999999999999" fill="none" stroke="#222" stroke-width="1.2"/>
<rect x="445.1" y="153.5" width="12.5" height="5.9" fill="#000000" stroke="#000" stroke-width="0.35"/>
<text transform="translate(459.5,158.5) scale(0.9,1)" font-size="6.3" text-anchor="start" font-weight="bold" fill="#000" >25<tspan font-weight="normal" dx="0.4">&#176;C</tspan></text>
<rect x="445.1" y="161.0" width="12.5" height="5.9" fill="#ff0000" stroke="#000" stroke-width="0.35"/>
<text transform="translate(459.5,166.0) scale(0.9,1)" font-size="6.3" text-anchor="start" font-weight="bold" fill="#000" >35<tspan font-weight="normal" dx="0.4">&#176;C</tspan></text>
<rect x="445.1" y="168.4" width="12.5" height="5.9" fill="#0000ff" stroke="#000" stroke-width="0.35"/>
<text transform="translate(459.5,173.4) scale(0.9,1)" font-size="6.3" text-anchor="start" font-weight="bold" fill="#000" >45<tspan font-weight="normal" dx="0.4">&#176;C</tspan></text>
<rect x="445.1" y="175.9" width="12.5" height="5.9" fill="#ff00ff" stroke="#000" stroke-width="0.35"/>
<text transform="translate(459.5,180.9) scale(0.9,1)" font-size="6.3" text-anchor="start" font-weight="bold" fill="#000" >55<tspan font-weight="normal" dx="0.4">&#176;C</tspan></text>
<text transform="translate(515.5,282.0) scale(0.965,1)" font-size="8.2" text-anchor="middle" font-weight="bold" fill="#000" >Cell voltage (V)</text>
<text transform="translate(416.8,205.7) rotate(-90) scale(0.89,1)" font-size="9" text-anchor="middle" font-weight="bold" >Yield Rate (10<tspan dy="-3" font-size="6">-3</tspan><tspan dy="3"> mmol h</tspan><tspan dy="-3" font-size="6">-1</tspan><tspan dy="3"> cm</tspan><tspan dy="-3" font-size="6">-2</tspan><tspan dy="3">)</tspan></text>
<text x="17.8" y="280.3" font-size="12.5" text-anchor="middle" font-weight="normal" fill="#000" >(g)</text>
<line x1="41.9" y1="395.0" x2="44.4" y2="395.0" stroke="#222" stroke-width="1"/>
<text x="40.4" y="397.7" font-size="7.6" text-anchor="end" font-weight="bold" fill="#000" >2.00</text>
<line x1="41.9" y1="380.9" x2="44.4" y2="380.9" stroke="#222" stroke-width="1"/>
<text x="40.4" y="383.6" font-size="7.6" text-anchor="end" font-weight="bold" fill="#000" >2.05</text>
<line x1="41.9" y1="366.9" x2="44.4" y2="366.9" stroke="#222" stroke-width="1"/>
<text x="40.4" y="369.5" font-size="7.6" text-anchor="end" font-weight="bold" fill="#000" >2.10</text>
<line x1="41.9" y1="352.8" x2="44.4" y2="352.8" stroke="#222" stroke-width="1"/>
<text x="40.4" y="355.5" font-size="7.6" text-anchor="end" font-weight="bold" fill="#000" >2.15</text>
<line x1="41.9" y1="338.7" x2="44.4" y2="338.7" stroke="#222" stroke-width="1"/>
<text x="40.4" y="341.4" font-size="7.6" text-anchor="end" font-weight="bold" fill="#000" >2.20</text>
<line x1="41.9" y1="324.6" x2="44.4" y2="324.6" stroke="#222" stroke-width="1"/>
<text x="40.4" y="327.3" font-size="7.6" text-anchor="end" font-weight="bold" fill="#000" >2.25</text>
<line x1="41.9" y1="310.6" x2="44.4" y2="310.6" stroke="#222" stroke-width="1"/>
<text x="40.4" y="313.2" font-size="7.6" text-anchor="end" font-weight="bold" fill="#000" >2.30</text>
<line x1="41.9" y1="296.5" x2="44.4" y2="296.5" stroke="#222" stroke-width="1"/>
<text x="40.4" y="299.2" font-size="7.6" text-anchor="end" font-weight="bold" fill="#000" >2.35</text>
<line x1="41.9" y1="282.4" x2="44.4" y2="282.4" stroke="#222" stroke-width="1"/>
<text x="40.4" y="285.1" font-size="7.6" text-anchor="end" font-weight="bold" fill="#000" >2.40</text>
<line x1="44.4" y1="395.0" x2="44.4" y2="397.5" stroke="#222" stroke-width="1"/>
<text x="44.4" y="405.2" font-size="7.6" text-anchor="middle" font-weight="bold" fill="#000" >0</text>
<line x1="57.1" y1="395.0" x2="57.1" y2="397.5" stroke="#222" stroke-width="1"/>
<text x="57.1" y="405.2" font-size="7.6" text-anchor="middle" font-weight="bold" fill="#000" >4</text>
<line x1="69.9" y1="395.0" x2="69.9" y2="397.5" stroke="#222" stroke-width="1"/>
<text x="69.9" y="405.2" font-size="7.6" text-anchor="middle" font-weight="bold" fill="#000" >8</text>
<line x1="82.7" y1="395.0" x2="82.7" y2="397.5" stroke="#222" stroke-width="1"/>
<text x="82.7" y="405.2" font-size="7.6" text-anchor="middle" font-weight="bold" fill="#000" >12</text>
<line x1="95.4" y1="395.0" x2="95.4" y2="397.5" stroke="#222" stroke-width="1"/>
<text x="95.4" y="405.2" font-size="7.6" text-anchor="middle" font-weight="bold" fill="#000" >16</text>
<line x1="108.2" y1="395.0" x2="108.2" y2="397.5" stroke="#222" stroke-width="1"/>
<text x="108.2" y="405.2" font-size="7.6" text-anchor="middle" font-weight="bold" fill="#000" >20</text>
<line x1="120.9" y1="395.0" x2="120.9" y2="397.5" stroke="#222" stroke-width="1"/>
<text x="120.9" y="405.2" font-size="7.6" text-anchor="middle" font-weight="bold" fill="#000" >24</text>
<line x1="133.7" y1="395.0" x2="133.7" y2="397.5" stroke="#222" stroke-width="1"/>
<text x="133.7" y="405.2" font-size="7.6" text-anchor="middle" font-weight="bold" fill="#000" >28</text>
<line x1="146.4" y1="395.0" x2="146.4" y2="397.5" stroke="#222" stroke-width="1"/>
<text x="146.4" y="405.2" font-size="7.6" text-anchor="middle" font-weight="bold" fill="#000" >32</text>
<line x1="159.2" y1="395.0" x2="159.2" y2="397.5" stroke="#222" stroke-width="1"/>
<text x="159.2" y="405.2" font-size="7.6" text-anchor="middle" font-weight="bold" fill="#000" >36</text>
<line x1="171.9" y1="395.0" x2="171.9" y2="397.5" stroke="#222" stroke-width="1"/>
<text x="171.9" y="405.2" font-size="7.6" text-anchor="middle" font-weight="bold" fill="#000" >40</text>
<line x1="184.7" y1="395.0" x2="184.7" y2="397.5" stroke="#222" stroke-width="1"/>
<text x="184.7" y="405.2" font-size="7.6" text-anchor="middle" font-weight="bold" fill="#000" >44</text>
<line x1="197.4" y1="395.0" x2="197.4" y2="397.5" stroke="#222" stroke-width="1"/>
<text x="197.4" y="405.2" font-size="7.6" text-anchor="middle" font-weight="bold" fill="#000" >48</text>
<polyline points="44.4,330.7 47.0,328.8 50.0,327.0 53.0,325.3 56.0,324.2 59.0,323.5 60.5,323.2 61.0,322.4 61.6,323.3 64.0,323.2 70.0,322.8 76.0,322.2 80.0,321.6 82.0,321.0 82.6,319.6 83.2,321.5 83.6,323.5 84.3,326.5 85.0,325.8 88.0,325.6 93.0,325.4 95.0,324.8 95.6,323.4 96.2,325.0 100.0,324.6 104.0,324.2 112.0,323.0 120.0,322.0 127.0,321.0 128.0,320.4 129.0,321.6 135.0,321.7 145.0,320.8 152.0,320.2 158.0,320.0 158.6,320.5 159.0,323.5 159.5,321.8 163.0,321.8 168.5,322.0 169.0,323.6 169.6,321.6 175.0,321.0 180.0,320.7 185.0,320.2 190.0,319.5 194.0,318.8 197.4,318.5" fill="none" stroke="#cf1f1f" stroke-width="1.3" stroke-linejoin="round" />
<defs><linearGradient id="pl" x1="0" y1="0" x2="0" y2="1"><stop offset="0" stop-color="#a09a94"/><stop offset="0.5" stop-color="#8c8680"/><stop offset="1" stop-color="#76716c"/></linearGradient><linearGradient id="pbg" x1="0" y1="0" x2="1" y2="0"><stop offset="0" stop-color="#cfcdc6"/><stop offset="0.6" stop-color="#d9d7d0"/><stop offset="1" stop-color="#e6e4df"/></linearGradient></defs>
<g>
<rect x="47.8" y="334.1" width="88.2" height="56" fill="url(#pbg)"/>
<rect x="115.5" y="334.1" width="20.5" height="38" fill="#ebe9e4"/>
<rect x="47.8" y="375" width="15.5" height="15.1" fill="#9a9893"/>
<rect x="47.8" y="382.5" width="15.5" height="7.6" fill="#2c2c2c"/>
<rect x="96" y="371" width="30" height="19.1" fill="#5a5a5c"/>
<rect x="96" y="384" width="40" height="6.1" fill="#2a2a2c"/>
<rect x="126" y="371" width="10" height="13" fill="#c8c8cc"/>
<path d="M112,388 L136,384" stroke="#a8b8d0" stroke-width="1.4" fill="none"/>
<path d="M127,366 L136,373" stroke="#8aa8d8" stroke-width="1.2" fill="none"/>
<path d="M48.5,334.5 Q52,340 56,344.5" stroke="#3a3a3a" stroke-width="0.8" fill="none"/>
<path d="M80,334.3 Q85,338.5 92,340.5" stroke="#3a3a3a" stroke-width="0.7" fill="none"/>
<rect x="59" y="338.1" width="14.2" height="4.6" fill="#a3bce6"/>
<rect x="91.6" y="340" width="15.2" height="5.2" fill="#f06a78"/>
<rect x="73.4" y="334.1" width="4.4" height="13" fill="#1e1e1e"/>
<rect x="87.6" y="334.1" width="4.4" height="14" fill="#1e1e1e"/>
<rect x="64" y="344.5" width="5" height="6" fill="#e6e4de"/>
<path d="M117.2,335.5 L131,338.5 L134,341" stroke="#151515" stroke-width="2.6" fill="none"/>
<path d="M111.8,337.5 L114,344" stroke="#5080d0" stroke-width="1.3" fill="none"/>
<path d="M116.5,346 L131,338" stroke="#555" stroke-width="0.6" fill="none"/>
<path d="M115.2,334.4 L115.2,372" stroke="#9c9a94" stroke-width="1" fill="none"/>
<rect x="96.2" y="346" width="6" height="24" fill="#c2c0ba"/>
<rect x="69" y="348.1" width="22.2" height="9.2" fill="#d6b47c"/>
<rect x="81" y="350.5" width="10" height="6" fill="#b89868"/>
<rect x="83" y="352" width="5" height="3" fill="#2a2218"/>
<path d="M91,344 L82,356" stroke="#1a1a1a" stroke-width="0.9" fill="none"/>
<rect x="62.9" y="356.8" width="33.3" height="33" fill="url(#pl)"/>
<rect x="62.9" y="374" width="33.3" height="0.8" fill="#6a6560"/>
<circle cx="73.6" cy="360.8" r="1.6" fill="#dcdcdc"/>
<circle cx="85.6" cy="360.8" r="1.6" fill="#dcdcdc"/>
<circle cx="66" cy="367.9" r="1.6" fill="#dcdcdc"/>
<circle cx="66" cy="379" r="1.6" fill="#dcdcdc"/>
<circle cx="73.6" cy="386.6" r="1.6" fill="#dcdcdc"/>
<circle cx="84.7" cy="386.6" r="1.6" fill="#dcdcdc"/>
<circle cx="91.4" cy="367.9" r="1.6" fill="#dcdcdc"/>
<circle cx="91.4" cy="379" r="1.6" fill="#dcdcdc"/>
<path d="M48,354.5 L55,358.5" stroke="#1a1a1a" stroke-width="2.2" fill="none"/>
<path d="M47.8,353.5 L50,355" stroke="#3060d0" stroke-width="1.6" fill="none"/>
<path d="M48,359.5 L56,361" stroke="#e8e8e8" stroke-width="1.4" fill="none"/>
<path d="M53,364 Q58,366 63,365" stroke="#111" stroke-width="0.9" fill="none"/>
<path d="M96,373.5 L103,375.5" stroke="#2050d0" stroke-width="2.2" fill="none"/>
<path d="M96,378 L108,380" stroke="#e0e0e0" stroke-width="1.4" fill="none"/>
<path d="M98,376.5 L112,377" stroke="#111" stroke-width="1" fill="none"/>
<path d="M97,371.5 Q99,369.5 101,371.5" stroke="#e03030" stroke-width="0.6" fill="none"/>
<rect x="49.8" y="344.7" width="10.4" height="9.9" fill="#ffff00"/>
<text x="50.2" y="352.9" font-size="8.8" font-weight="bold">O<tspan dy="1.5" font-size="5.5">2</tspan></text>
<rect x="46.9" y="371.5" width="15.1" height="9.3" fill="#ffff00"/>
<text transform="translate(47.1,379.4) scale(0.88,1)" font-size="8.8" font-weight="bold">NH<tspan dy="1.5" font-size="5.5">3</tspan></text>
<rect x="105.6" y="357.2" width="23.5" height="9.8" fill="#ffff00"/>
<text transform="translate(105.9,365.6) scale(0.88,1)" font-size="8.8" font-weight="bold">NaOH</text>
<rect x="108.7" y="375" width="26.2" height="9.8" fill="#ffff00"/>
<text transform="translate(108.9,383.4) scale(0.86,1)" font-size="8.8" font-weight="bold">NaNO<tspan dy="1.5" font-size="5.5">3</tspan></text>
<line x1="60.6" y1="350.4" x2="68.6" y2="354.2" stroke="#ee1c1c" stroke-width="1.2"/>
<polygon points="69.5,354.6 68.3,354.8 68.9,353.6" fill="#ee1c1c"/>
<line x1="62.5" y1="361.8" x2="55.0" y2="358.4" stroke="#ee1c1c" stroke-width="1.2"/>
<polygon points="52.5,357.2 55.8,356.7 54.3,360.0" fill="#ee1c1c"/>
<line x1="57.0" y1="364.5" x2="53.5" y2="368.8" stroke="#ee1c1c" stroke-width="1.2"/>
<polygon points="51.8,371.0 52.1,367.7 55.0,370.0" fill="#ee1c1c"/>
<line x1="111.5" y1="367.0" x2="103.8" y2="371.7" stroke="#ee1c1c" stroke-width="1.2"/>
<polygon points="101.4,373.2 102.8,370.2 104.7,373.3" fill="#ee1c1c"/>
<line x1="110.0" y1="380.0" x2="102.3" y2="381.9" stroke="#ee1c1c" stroke-width="1.2"/>
<polygon points="99.6,382.6 101.9,380.2 102.8,383.7" fill="#ee1c1c"/>
</g>
<rect x="44.4" y="282.4" width="153.0" height="112.60000000000002" fill="none" stroke="#222" stroke-width="1.2"/>
<text transform="translate(168.0,374.6) scale(0.97,1)" font-size="7.4" text-anchor="middle" font-weight="bold" fill="#2a2a2a" >@200 mA cm<tspan dy="-3" font-size="5.5">-2</tspan></text>
<text transform="translate(114.7,415.0) scale(0.93,1)" font-size="9" text-anchor="middle" font-weight="bold" fill="#000" >Time (h)</text>
<text transform="translate(18.7,334.8) rotate(-90) scale(0.98,1)" font-size="9" text-anchor="middle" font-weight="bold" >Cell Voltage (V)</text>
<text x="217.8" y="280.6" font-size="12.5" text-anchor="middle" font-weight="normal" fill="#000" >(h)</text>
<rect x="239" y="286" width="355" height="130" fill="#f0f0f0"/>
<polyline points="305,323 290.5,313.7 291.5,369.7 350,400.7 351,393" fill="none" stroke="#6b8fd6" stroke-width="0.7"/>
<defs><linearGradient id="af" x1="0" y1="0" x2="0" y2="1"><stop offset="0" stop-color="#c2c4cc"/><stop offset="1" stop-color="#a4a6b0"/></linearGradient><linearGradient id="cf" x1="0" y1="0" x2="0" y2="1"><stop offset="0" stop-color="#d2d2d8"/><stop offset="1" stop-color="#b4b4bc"/></linearGradient><linearGradient id="bl" x1="0" y1="0" x2="1" y2="1"><stop offset="0" stop-color="#4cc0f4"/><stop offset="1" stop-color="#1c98e4"/></linearGradient></defs>
<polygon points="304,315.8 308,314.2 348.5,325.6 337.7,327.6" fill="#7a7472" />
<polygon points="337.7,327.6 348.5,325.6 348.5,391.3 337.7,386" fill="#8c8078" />
<polygon points="304,316.8 337.7,327.6 337.7,386 305.2,374.5" fill="url(#af)" />
<ellipse cx="331.6" cy="332.8" rx="2.4" ry="3.8" fill="#2a3660"/>
<ellipse cx="331.6" cy="376.9" rx="2.4" ry="3.8" fill="#2a3660"/>
<ellipse cx="310" cy="363.7" rx="2" ry="3.4" fill="#9c9ea8"/>
<ellipse cx="311" cy="319.5" rx="2" ry="3" fill="#9c9ea8"/>
<polygon points="297.3,322.5 308.8,328.5 311.2,323.9 299.7,317.9" fill="#707480"/>
<ellipse cx="298.5" cy="320.2" rx="1.4" ry="2.6" transform="rotate(28,298.5,320.2)" fill="#8a8e9a"/>
<polygon points="351.3,385.4 341.3,380.4 337.7,387.6 347.7,392.6" fill="#9a9692"/>
<ellipse cx="349.5" cy="389.0" rx="2.2" ry="4.0" transform="rotate(-153,349.5,389.0)" fill="#cac6c2"/>
<line x1="296" y1="320" x2="315" y2="329" stroke="#ffee00" stroke-width="0.9" stroke-dasharray="1.3,0.8"/>
<line x1="335" y1="384.5" x2="351" y2="391.5" stroke="#ffee00" stroke-width="0.9" stroke-dasharray="1.3,0.8"/>
<text transform="translate(295.2,328.6) rotate(31)" font-size="6.8" font-weight="bold" fill="#ffec00">NaOH</text>
<text transform="translate(326.5,384.6) rotate(37)" font-size="6.8" font-weight="bold" fill="#ffec00">NaOH</text>
<text transform="translate(284.5,377.5) rotate(32)" font-size="9.3" font-weight="bold">circulation</text>
<text x="334.2" y="413.7" font-size="9.4" text-anchor="start" font-weight="bold" fill="#000" stroke="#000" stroke-width="0.3">Anode</text>
<polygon points="374.8,329.4 376.3,329 376.3,377 374.8,377.3" fill="#3c3c40" />
<polygon points="351.7,320.8 374.8,329.4 374.8,377.3 351.7,363.9" fill="#737379" />
<polyline points="369,352 369,389.8 383.5,395.6" fill="none" stroke="#6b8fd6" stroke-width="0.7"/>
<polygon points="384.5,396.0 382.3,396.2 383.0,394.3" fill="#6b8fd6"/>
<text x="387.3" y="401.8" font-size="9.4" text-anchor="start" font-weight="bold" fill="#000" stroke="#000" stroke-width="0.3">Ti</text>
<polygon points="402.7,328.5 404,328 403,372 401.7,372.5" fill="#6a5420" />
<polygon points="378.7,318.8 402.7,328.5 401.7,372.5 377.7,360" fill="#bb9a45" />
<polygon points="381,327.2 396.6,333 396,364.2 381.2,357.2" fill="#1c1c1c" />
<polyline points="386.3,334.2 386.3,315 374.8,309.2" fill="none" stroke="#6b8fd6" stroke-width="0.7"/>
<polygon points="373.8,308.7 376.0,308.7 375.1,310.5" fill="#6b8fd6"/>
<polyline points="400.8,326.5 399.8,305.4 385.4,298.7" fill="none" stroke="#6b8fd6" stroke-width="0.7"/>
<polygon points="384.4,298.2 386.6,298.1 385.8,300.0" fill="#6b8fd6"/>
<text x="365.2" y="312.6" font-size="9.4" text-anchor="start" font-weight="bold" fill="#000" stroke="#000" stroke-width="0.3">Ir</text>
<text x="363.3" y="297.6" font-size="9.4" text-anchor="start" font-weight="bold" fill="#000" stroke="#000" stroke-width="0.3">AEM</text>
<polygon points="430.8,324.2 432.2,324 430.2,367 428.8,366.9" fill="#5e6a64" />
<polygon points="405.4,316.9 430.8,324.2 428.8,366.9 404.8,359.2" fill="#a3b2aa" />
<polygon points="407.7,325 424,330.4 422.7,358.3 406.7,352.5" fill="url(#bl)" />
<polyline points="425,325.6 425,313 414.4,309.2" fill="none" stroke="#6b8fd6" stroke-width="0.7"/>
<polygon points="413.4,308.8 415.6,308.5 414.9,310.4" fill="#6b8fd6"/>
<polyline points="410.5,348.6 410.5,387.8 423.5,394.4" fill="none" stroke="#6b8fd6" stroke-width="0.7"/>
<polygon points="424.5,394.9 422.3,394.9 423.2,393.1" fill="#6b8fd6"/>
<text x="403.8" y="307.8" font-size="9.4" text-anchor="start" font-weight="bold" fill="#000" stroke="#000" stroke-width="0.3">CP</text>
<text x="426.8" y="399.6" font-size="9.4" text-anchor="start" font-weight="bold" fill="#000" stroke="#000" stroke-width="0.3">Cu<tspan dy="2.4" font-size="6.2">3</tspan><tspan dy="-2.4">P-Ni</tspan><tspan dy="2.4" font-size="6.2">2</tspan><tspan dy="-2.4">P-0.5</tspan></text>
<polygon points="434.2,314 461.2,321.7 458.7,362.1 431.7,352.5" fill="#3e3939" />
<polyline points="446.2,349.6 446.2,363 459,372.9" fill="none" stroke="#6b8fd6" stroke-width="0.7"/>
<polygon points="459.8,373.5 457.6,373.1 458.8,371.5" fill="#6b8fd6"/>
<text x="424.5" y="381.6" font-size="9.4" text-anchor="start" font-weight="bold" fill="#000" stroke="#000" stroke-width="0.3">Graphite plate</text>
<polyline points="457,307.8 447.2,304.5 447.2,288.6 523.6,314.6 519.2,366.5 506.3,363.6" fill="none" stroke="#6b8fd6" stroke-width="0.7"/>
<polygon points="463,307.4 466,305.4 507.7,312.3 502,314.6" fill="#8e8a88" />
<polygon points="502,314.6 507.7,312.3 506.3,357.8 499,360.7" fill="#7f7b79" />
<polygon points="463,307.4 502,314.6 499,360.7 463,350.6" fill="url(#cf)" />
<ellipse cx="493.3" cy="317.5" rx="2.2" ry="3.2" fill="#2a3660"/>
<ellipse cx="468.8" cy="342" rx="2" ry="3" fill="#a4a4ac"/>
<ellipse cx="490.4" cy="349.2" rx="2.2" ry="3.2" fill="#2a3660"/>
<polygon points="456.7,311.2 468.4,314.1 469.6,309.3 457.9,306.4" fill="#8e8e98"/>
<ellipse cx="457.3" cy="308.8" rx="1.4" ry="2.5" transform="rotate(14,457.3,308.8)" fill="#b0b0b8"/>
<polygon points="506.2,356.1 496.2,352.3 493.8,358.7 503.8,362.5" fill="#8a8482"/>
<ellipse cx="505.0" cy="359.3" rx="1.9" ry="3.4" transform="rotate(-159,505.0,359.3)" fill="#c4beb8"/>
<line x1="454.4" y1="307.4" x2="471.7" y2="316" stroke="#ffee00" stroke-width="0.9" stroke-dasharray="1.3,0.8"/>
<line x1="491" y1="353" x2="508" y2="361" stroke="#ffee00" stroke-width="0.9" stroke-dasharray="1.3,0.8"/>
<text transform="translate(460,315.5) rotate(50)" font-size="6.3" font-weight="bold" fill="#ffec00">NH<tspan dy="1.3" font-size="4.5">3</tspan></text>
<text transform="translate(488.5,359) rotate(35)" font-size="6.3" font-weight="bold" fill="#ffec00">NO<tspan dy="1.3" font-size="4.5">3</tspan><tspan dy="-3.2" font-size="4.5">-</tspan></text>
<text transform="translate(468.8,290.8) rotate(21.5)" font-size="9.3" font-weight="bold">circulation</text>
<text x="495.5" y="381.2" font-size="9.4" text-anchor="start" font-weight="bold" fill="#000" stroke="#000" stroke-width="0.3">Cathode</text>
</svg></body></html>
